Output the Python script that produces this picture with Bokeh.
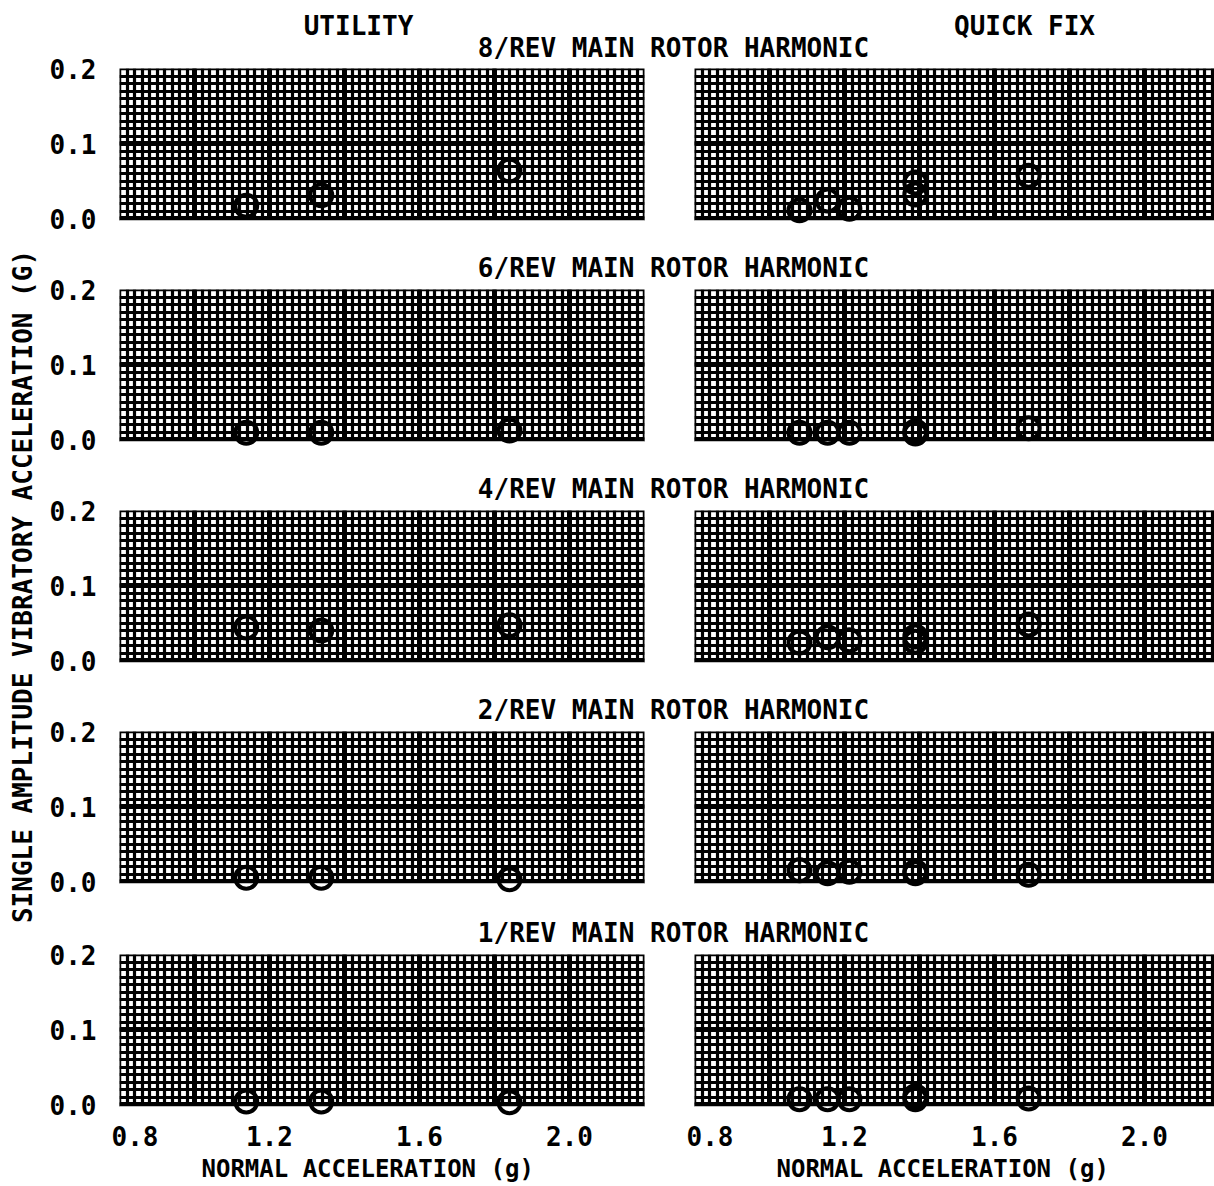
from bokeh.plotting import figure
from bokeh.layouts import column, row
from bokeh.models import (Range1d, FixedTicker, SingleIntervalTicker,
                          PrintfTickFormatter, Label, BoxAnnotation, Spacer, Title)
from bokeh.embed import file_html
from bokeh.resources import INLINE
import math

# ---------------- data ----------------
harmonic_titles = ["8/REV MAIN ROTOR HARMONIC", "6/REV MAIN ROTOR HARMONIC",
                   "4/REV MAIN ROTOR HARMONIC", "2/REV MAIN ROTOR HARMONIC",
                   "1/REV MAIN ROTOR HARMONIC"]
column_titles = ["UTILITY", "QUICK FIX"]
y_axis_title = "SINGLE AMPLITUDE VIBRATORY ACCELERATION (G)"
x_axis_title = "NORMAL ACCELERATION (g)"
x_ticks = [0.8, 1.2, 1.6, 2.0]
y_ticks = [0.0, 0.1, 0.2]

utility_nz = [1.138, 1.338, 1.840]
quickfix_nz = [1.080, 1.155, 1.213, 1.389, 1.389, 1.691]

utility_8rev = [0.017, 0.031, 0.064]
utility_6rev = [0.009, 0.009, 0.012]
utility_4rev = [0.044, 0.040, 0.047]
utility_2rev = [0.005, 0.005, 0.003]
utility_1rev = [0.004, 0.004, 0.003]

quickfix_8rev = [0.011, 0.024, 0.013, 0.048, 0.032, 0.057]
quickfix_6rev = [0.009, 0.009, 0.009, 0.011, 0.008, 0.015]
quickfix_4rev = [0.024, 0.031, 0.027, 0.032, 0.025, 0.048]
quickfix_2rev = [0.015, 0.011, 0.013, 0.013, 0.011, 0.009]
quickfix_1rev = [0.007, 0.007, 0.007, 0.011, 0.007, 0.008]

utility_series = [utility_8rev, utility_6rev, utility_4rev, utility_2rev, utility_1rev]
quickfix_series = [quickfix_8rev, quickfix_6rev, quickfix_4rev, quickfix_2rev, quickfix_1rev]

# ---------------- style / geometry ----------------
FONT = "'DejaVu Sans Mono', monospace"
TICK_SIZE = "26px"
TITLE_SIZE = "26px"
AXIS_TITLE_SIZE = "24px"

PX_PER_UNIT = 375.0     # 0.2 g = 75 px on both panels
Y_LO = -0.02            # room below y=0 so circles are not clipped
FRAME_H = 165           # 150 px for 0..0.2 plus 15 px below
FRAME_TOPS = [68, 289, 510, 731, 954]
TOTAL_H = 1186
YLAB_W = 46
YTICK_W = 64
PAD = 8                 # blank canvas left of each panel frame
LEFT_FRAME_X = 118
RIGHT_FRAME_X = 693
X0 = YLAB_W + YTICK_W   # page x where the main column starts (110)
MAIN_W = 1214 - X0
LEFT_FW = 525
RIGHT_FW = 1214 - RIGHT_FRAME_X


def style_grid(p):
    p.xgrid.ticker = SingleIntervalTicker(interval=0.2, num_minor_ticks=10)
    p.ygrid.ticker = SingleIntervalTicker(interval=0.1, num_minor_ticks=10)
    try:
        p.xgrid.cross_bounds = (0.0, 0.2)
    except Exception:
        pass
    p.ygrid.bounds = (0.0, 0.2)
    for g in (p.xgrid, p.ygrid):
        g.grid_line_color = "black"
        g.grid_line_width = 5
        g.minor_grid_line_color = "black"
        g.minor_grid_line_width = 3.2


def panel(xs, ys, side, last, yr):
    if side == "left":
        fw = LEFT_FW
        mbr = (RIGHT_FRAME_X - PAD) - (LEFT_FRAME_X + LEFT_FW)
    else:
        fw = RIGHT_FW
        mbr = 0
    xend = 0.8 + fw / PX_PER_UNIT
    mbb = TOTAL_H - (FRAME_TOPS[4] + FRAME_H) if last else 0
    p = figure(frame_width=fw, frame_height=FRAME_H,
               min_border_left=PAD, min_border_right=mbr,
               min_border_top=6, min_border_bottom=mbb,
               x_range=Range1d(0.8, xend), y_range=yr,
               x_axis_location="below" if last else None,
               y_axis_location=None,
               output_backend="svg", toolbar_location=None)
    p.background_fill_color = "white"
    p.border_fill_color = "white"
    p.outline_line_color = None
    style_grid(p)

    # keep the strip below y = 0 blank (over the grid, under the circles)
    p.add_layout(BoxAnnotation(top=0.0, fill_color="white", fill_alpha=1.0,
                               line_color=None, level="underlay"))
    # panel border 0.8..2.2 x 0..0.2
    p.add_layout(BoxAnnotation(left=0.8, right=2.2, bottom=0.0, top=0.2,
                               fill_color=None, fill_alpha=0, line_color="black",
                               line_width=3.5, line_alpha=1.0))

    if last:
        ax = p.xaxis[0]
        ax.ticker = FixedTicker(ticks=x_ticks)
        ax.formatter = PrintfTickFormatter(format="%.1f")
        ax.axis_line_color = None
        ax.major_tick_line_color = None
        ax.minor_tick_line_color = None
        ax.major_label_standoff = 0
        ax.major_label_text_font = FONT
        ax.major_label_text_font_size = TICK_SIZE
        ax.major_label_text_font_style = "bold"
        ax.major_label_text_color = "black"
        p.add_layout(Title(text=x_axis_title, align="left", offset=82,
                           standoff=8, text_font=FONT,
                           text_font_size=AXIS_TITLE_SIZE,
                           text_font_style="bold", text_color="black"), "below")

    p.scatter(xs, ys, marker="circle", size=22, fill_color=None,
              line_color="black", line_width=4)
    return p


def ytick_fig(yr):
    p = figure(frame_width=1, frame_height=FRAME_H,
               min_border_left=YTICK_W - 1, min_border_right=0,
               min_border_top=16, min_border_bottom=4,
               x_range=Range1d(0, 1), y_range=yr,
               x_axis_location=None, y_axis_location="left",
               output_backend="svg", toolbar_location=None)
    p.outline_line_color = None
    p.grid.visible = False
    ax = p.yaxis[0]
    ax.ticker = FixedTicker(ticks=y_ticks)
    ax.formatter = PrintfTickFormatter(format="%.1f")
    ax.axis_line_color = None
    ax.major_tick_line_color = None
    ax.minor_tick_line_color = None
    ax.major_label_standoff = 8
    ax.major_label_text_font = FONT
    ax.major_label_text_font_size = TICK_SIZE
    ax.major_label_text_font_style = "bold"
    ax.major_label_text_color = "black"
    return p


def strip(height, labels):
    s = figure(width=MAIN_W, height=height,
               x_range=Range1d(0, MAIN_W), y_range=Range1d(0, height),
               x_axis_location=None, y_axis_location=None, min_border=0,
               output_backend="svg", toolbar_location=None)
    s.outline_line_color = None
    s.grid.visible = False
    for (txt, x, y) in labels:
        s.add_layout(Label(x=x, y=y, text=txt, text_align="center",
                           text_baseline="middle", text_font=FONT,
                           text_font_size=TITLE_SIZE, text_font_style="bold",
                           text_color="black"))
    return s


TITLE_X = 672 - X0

main_children = []
tick_children = []
y_ranges = [Range1d(Y_LO, 0.2) for _ in range(5)]

header_h = FRAME_TOPS[0] - 6
main_children.append(strip(header_h, [(column_titles[0], 357 - X0, header_h - 25),
                                      (column_titles[1], 1023 - X0, header_h - 25),
                                      (harmonic_titles[0], TITLE_X, header_h - 47)]))
tick_prev_end = 0
for i in range(5):
    last = (i == 4)
    left = panel(utility_nz, utility_series[i], "left", last, y_ranges[i])
    right = panel(quickfix_nz, quickfix_series[i], "right", last, y_ranges[i])
    main_children.append(row(left, right))
    if not last:
        top = FRAME_TOPS[i] + FRAME_H
        h = FRAME_TOPS[i + 1] - 6 - top
        main_children.append(strip(h, [(harmonic_titles[i + 1], TITLE_X, 15.5)]))
    sp = FRAME_TOPS[i] - 16 - tick_prev_end
    tick_children.append(Spacer(width=YTICK_W, height=sp))
    tick_children.append(ytick_fig(y_ranges[i]))
    tick_prev_end = FRAME_TOPS[i] + FRAME_H + 4

main_col = column(*main_children)
tick_col = column(*tick_children)

ylab = figure(width=YLAB_W, height=TOTAL_H, x_range=Range1d(0, YLAB_W),
              y_range=Range1d(0, TOTAL_H),
              x_axis_location=None, y_axis_location=None, min_border=0,
              output_backend="svg", toolbar_location=None)
ylab.outline_line_color = None
ylab.grid.visible = False
ylab.add_layout(Label(x=22, y=TOTAL_H - 586, text=y_axis_title,
                      angle=math.pi / 2, text_align="center", text_baseline="middle",
                      text_font=FONT, text_font_size="26px", text_font_style="bold",
                      text_color="black"))

layout = row(ylab, tick_col, main_col)

open("out.html", "w").write(file_html(layout, INLINE))
